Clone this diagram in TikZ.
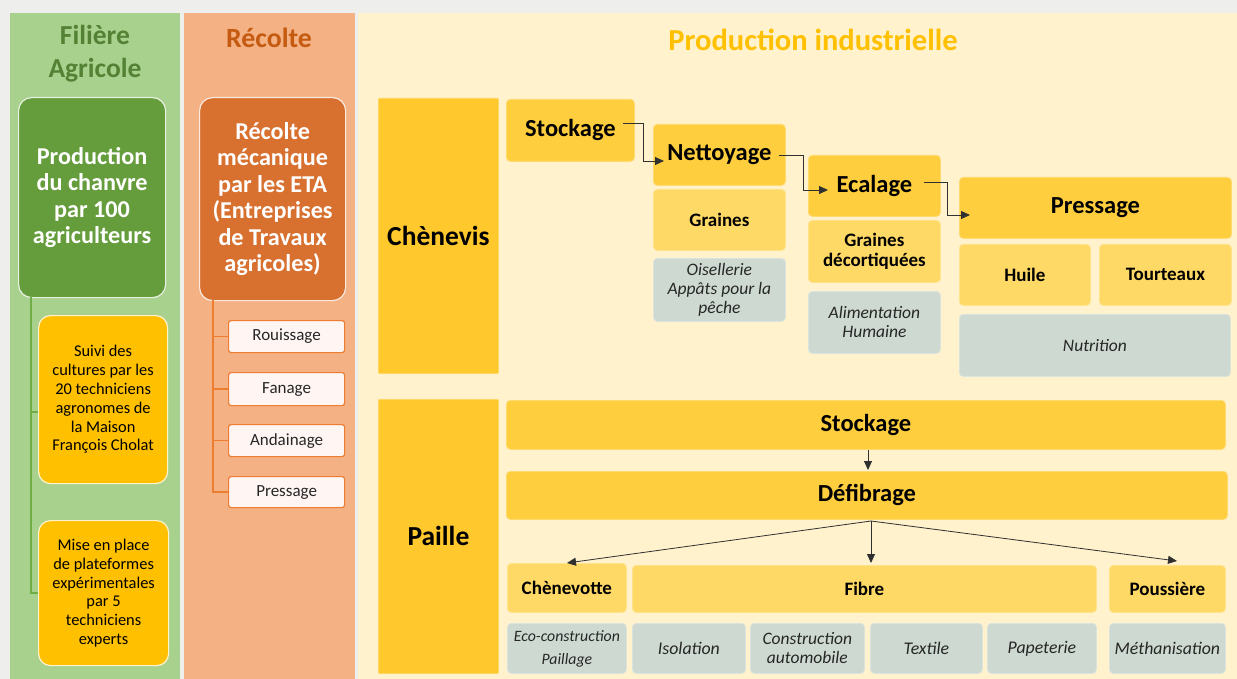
\documentclass[tikz,border=0pt]{standalone}
\usepackage{fontspec}
\setmainfont{Carlito}
\usetikzlibrary{arrows.meta,calc}
\definecolor{bgc}{HTML}{EEEEEC}
\definecolor{greencol}{HTML}{A9D18E}
\definecolor{salmoncol}{HTML}{F4B183}
\definecolor{creamcol}{HTML}{FFF2CC}
\definecolor{darkgreen}{HTML}{548235}
\definecolor{boxgreen}{HTML}{659D3D}
\definecolor{treegreen}{HTML}{70AD47}
\definecolor{titleorange}{HTML}{C55A11}
\definecolor{boxorange}{HTML}{D87130}
\definecolor{treeorange}{HTML}{ED7D31}
\definecolor{amber}{HTML}{FFC000}
\definecolor{deepyel}{HTML}{FFC82C}
\definecolor{midyel}{HTML}{FFCE3E}
\definecolor{lightyel}{HTML}{FFD966}
\definecolor{greybox}{HTML}{CEDAD1}
\definecolor{whitebox}{HTML}{FFF6F4}
\definecolor{arrowc}{HTML}{303030}
\tikzset{
  base/.style={anchor=north west, inner sep=2pt, align=center, text=black},
  colbox/.style={base, fill=#1, draw=#1!75!white, line width=0.8pt, rounded corners=4pt},
  catbox/.style={base, fill=deepyel, draw=deepyel!75!white, line width=0.8pt, rounded corners=1pt,
     font=\fontsize{27.5}{32}\selectfont\bfseries},
  stepbox/.style={colbox=midyel, font=\fontsize{24.5}{28}\selectfont\bfseries},
  prodbox/.style={colbox=lightyel, font=\fontsize{19}{20}\selectfont\bfseries},
  usebox/.style={colbox=greybox, text=black!85, font=\fontsize{17.5}{19}\selectfont\itshape},
  bigbox/.style={base, fill=#1, draw=white!85!#1, line width=1.2pt, rounded corners=13pt, text=white,
     font=\fontsize{24.2}{26.5}\selectfont\bfseries},
  ambbox/.style={base, fill=amber, draw=white!80!amber, line width=1.2pt, rounded corners=12pt,
     font=\fontsize{16.4}{18.8}\selectfont},
  wbox/.style={base, fill=whitebox, draw=treeorange, line width=1.2pt, rounded corners=2.5pt,
     text=black!85, font=\fontsize{17}{19}\selectfont},
  flow/.style={draw=arrowc, line width=0.8pt, -{Triangle[length=9pt,width=8pt]}},
}
\begin{document}
\begin{tikzpicture}[x=1pt,y=-1pt]
\useasboundingbox (0,0) rectangle (1237,679);
\fill[bgc] (0,0) rectangle (1237,679);
% columns
\fill[greencol] (10,13) rectangle (180,679);
\fill[salmoncol] (184,13) rectangle (355,679);
\fill[creamcol] (358,13) rectangle (1237,679);
% column titles
\node[text=darkgreen, align=center, font=\fontsize{27.5}{33}\selectfont\bfseries] (t1) at (95,54) {Filière\\Agricole};
\node[text=titleorange, font=\fontsize{27.8}{33}\selectfont\bfseries] (t2) at (269,38) {Récolte};
\node[text=amber, font=\fontsize{30.5}{33}\selectfont\bfseries] (t3) at (813,40) {Production industrielle};

% Filière agricole
\node[bigbox=boxgreen, minimum width=147pt, minimum height=200pt] (prod) at (18,97) {Production\\du chanvre\\par 100\\agriculteurs};
\node[ambbox, minimum width=129pt, minimum height=168pt] (suivi) at (38,315)
  {Suivi des\\cultures par les\\20 techniciens\\agronomes de\\la Maison\\François Cholat};
\node[ambbox, minimum width=130pt, minimum height=145pt] (mise) at (38,520)
  {Mise en place\\de plateformes\\expérimentales\\par 5\\techniciens\\experts};
\coordinate (gtop) at (31,297);
\draw[treegreen, line width=1.3pt] (gtop) |- (mise.west);
\draw[treegreen, line width=1.3pt] (31,412) -- (suivi.west|-31,412);

% Récolte
\node[bigbox=boxorange, minimum width=146pt, minimum height=203pt] (meca) at (199,97)
  {Récolte\\mécanique\\par les ETA\\(Entreprises\\de Travaux\\agricoles)};
\node[wbox, minimum width=116pt, minimum height=32pt] (rou) at (228,320) {Rouissage};
\node[wbox, minimum width=116pt, minimum height=33pt] (fan) at (228,372) {Fanage};
\node[wbox, minimum width=116pt, minimum height=32pt] (and) at (228,424) {Andainage};
\node[wbox, minimum width=116pt, minimum height=31pt] (pre) at (228,476) {Pressage};
\coordinate (otop) at (213,300);
\draw[treeorange, line width=1.3pt] (otop) |- (pre.west);
\draw[treeorange, line width=1.3pt] (213,0|-rou.west) -- (rou.west);
\draw[treeorange, line width=1.3pt] (213,0|-fan.west) -- (fan.west);
\draw[treeorange, line width=1.3pt] (213,0|-and.west) -- (and.west);

% Chènevis
\node[catbox, minimum width=120pt, minimum height=275pt] (chen) at (378,98) {Chènevis};
\node[stepbox, minimum width=128pt, minimum height=62pt] (stk1) at (506,99) {Stockage};
\node[stepbox, minimum width=132pt, minimum height=61pt] (net) at (653,124) {Nettoyage};
\node[prodbox, minimum width=132pt, minimum height=61pt] (gra) at (653,189) {Graines};
\node[usebox, minimum width=132pt, minimum height=63pt] (ois) at (653,258) {Oisellerie\\Appâts pour la\\pêche};
\node[stepbox, minimum width=132pt, minimum height=61pt] (eca) at (808,155) {Ecalage};
\node[prodbox, minimum width=132pt, minimum height=62pt] (grd) at (808,220) {Graines\\décortiquées};
\node[usebox, minimum width=132pt, minimum height=62pt] (ali) at (808,291) {Alimentation\\Humaine};
\node[stepbox, minimum width=272pt, minimum height=61pt] (press) at (959,177) {Pressage};
\node[prodbox, minimum width=131pt, minimum height=61pt] (hui) at (959,244) {Huile};
\node[prodbox, minimum width=132pt, minimum height=61pt] (tou) at (1099,244) {Tourteaux};
\node[usebox, minimum width=271pt, minimum height=62pt] (nut) at (959,314) {Nutrition};

\coordinate (s1o) at (623,123);
\coordinate (n1i) at (664,161);
\coordinate (n1o) at (779,155);
\coordinate (e1i) at (828,190);
\coordinate (e1o) at (924,182);
\coordinate (p1i) at (970,215);
\draw[flow] (s1o) -- (643,123) |- (n1i);
\draw[flow] (n1o) -- (803,155) |- (e1i);
\draw[flow] (e1o) -- (947,182) |- (p1i);

% Paille
\node[catbox, minimum width=120pt, minimum height=274pt] (pai) at (378,399) {Paille};
\node[stepbox, minimum width=719pt, minimum height=49pt] (stk2) at (506,400) {Stockage};
\node[stepbox, minimum width=721pt, minimum height=48pt] (def) at (506,471) {Défibrage};
\node[prodbox, minimum width=119pt, minimum height=49pt] (chv) at (507,563) {Chènevotte};
\node[prodbox, minimum width=464pt, minimum height=47pt] (fib) at (632,565) {Fibre};
\node[prodbox, minimum width=116pt, minimum height=47pt] (pou) at (1109,565) {Poussière};
\node[usebox, minimum width=119pt, minimum height=50pt, font=\fontsize{15.8}{23}\selectfont\itshape] (eco) at (507,623) {Eco-construction\\Paillage};
\node[usebox, minimum width=113pt, minimum height=50pt, font=\fontsize{17.8}{19}\selectfont\itshape] (iso) at (632,623) {Isolation};
\node[usebox, minimum width=114pt, minimum height=50pt, font=\fontsize{17.5}{19}\selectfont\itshape] (cau) at (750,623) {Construction\\automobile};
\node[usebox, minimum width=112pt, minimum height=50pt, font=\fontsize{17.8}{19}\selectfont\itshape] (tex) at (870,623) {Textile};
\node[usebox, minimum width=109pt, minimum height=50pt, font=\fontsize{17.8}{19}\selectfont\itshape] (pap) at (987,623) {Papeterie};
\node[usebox, minimum width=116pt, minimum height=50pt, inner sep=0pt, font=\fontsize{17.8}{19}\selectfont\itshape] (met) at (1109,623) {Méthanisation};

\coordinate (s2o) at (868,450);
\coordinate (d2i) at (868,470);
\draw[flow] (s2o) -- (d2i);
\coordinate (dsrc) at (871,521);
\coordinate (chvi) at (567,563);
\coordinate (fibi) at (871,563);
\coordinate (poui) at (1177,561);
\draw[flow] (dsrc) -- (chvi);
\draw[flow] (dsrc) -- (fibi);
\draw[flow] (dsrc) -- (poui);
\end{tikzpicture}
\end{document}
